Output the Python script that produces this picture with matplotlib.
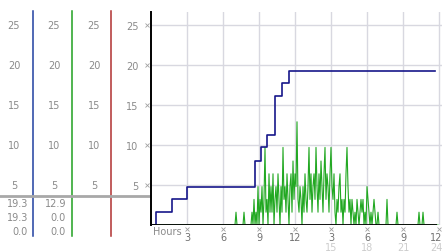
import numpy as np
import matplotlib
matplotlib.use('Agg')
import matplotlib.pyplot as plt
from matplotlib.transforms import blended_transform_factory

# gust steps (hour, value)
gust_hours = [0, 0.42, 1.75, 3.0, 8.7, 9.2, 9.7, 10.3, 10.9, 11.5, 23.7]
gust_vals = [0, 1.6, 3.2, 4.8, 8.0, 9.7, 11.3, 16.1, 17.7, 19.3, 19.3]

# wind, 5 minute readings, one row per hour
wind_rows = [
    [0, 0, 0, 0, 0, 0, 0, 0, 0, 0, 0, 0],
    [0, 0, 0, 0, 0, 0, 0, 0, 0, 0, 0, 0],
    [0, 0, 0, 0, 0, 0, 0, 0, 0, 0, 0, 0],
    [0, 0, 0, 0, 0, 0, 0, 0, 0, 0, 0, 0],
    [0, 0, 0, 0, 0, 0, 0, 0, 0, 0, 0, 0],
    [0, 0, 0, 0, 0, 0, 0, 0, 0, 0, 0, 0],
    [0, 0, 0, 0, 0, 0, 0, 0, 0, 0, 0, 0],
    [0, 1.6, 0, 0, 0, 0, 0, 0, 0, 1.6, 0, 0],
    [0, 0, 0, 0, 0, 1.6, 0, 3.2, 0, 1.6, 0, 4.8],
    [0, 3.2, 1.6, 4.8, 0, 3.2, 9.7, 1.6, 3.2, 0, 6.4, 1.6],
    [4.8, 1.6, 6.4, 0, 3.2, 4.8, 1.6, 6.4, 3.2, 0, 4.8, 1.6],
    [9.7, 3.2, 4.8, 1.6, 6.4, 3.2, 0, 4.8, 6.4, 1.6, 8.0, 3.2],
    [6.4, 4.8, 12.9, 3.2, 1.6, 4.8, 3.2, 0, 4.8, 1.6, 6.4, 3.2],
    [1.6, 4.8, 9.7, 3.2, 6.4, 1.6, 4.8, 6.4, 3.2, 9.7, 4.8, 1.6],
    [6.4, 3.2, 8.0, 4.8, 1.6, 6.4, 9.7, 3.2, 6.4, 4.8, 1.6, 6.4],
    [9.7, 4.8, 3.2, 6.4, 1.6, 0, 3.2, 1.6, 4.8, 6.4, 1.6, 3.2],
    [0, 3.2, 1.6, 6.4, 9.7, 4.8, 1.6, 3.2, 0, 3.2, 1.6, 0],
    [1.6, 0, 3.2, 1.6, 0, 1.6, 3.2, 1.6, 3.2, 0, 1.6, 0],
    [4.8, 3.2, 1.6, 0, 1.6, 0, 1.6, 3.2, 1.6, 0, 0, 1.6],
    [0, 0, 0, 0, 0, 0, 0, 0, 3.2, 0, 0, 0],
    [0, 0, 0, 0, 0, 0, 1.6, 0, 0, 0, 0, 0],
    [0, 0, 0, 0, 0, 0, 0, 0, 0, 0, 0, 0],
    [0, 0, 0, 0, 1.6, 0, 0, 0, 1.6, 0, 0, 0],
    [0, 0, 0, 0, 0, 0, 0, 0, 0, 0, 0, 0],
]

yticks = [5, 10, 15, 20, 25]
xticks = [3, 6, 9, 12, 15, 18, 21, 24]
xlabels = ['3', '6', '9', '12', '3', '6', '9', '12']
xlabels2 = {15: '15', 18: '18', 21: '21', 24: '24'}

gust_stats = ['19.3', '19.3', '0.0']
wind_stats = ['12.9', '0.0', '0.0']
legend_gust = 'Gust 05/05/05'
legend_wind = 'Wind 05/05/05'

NAVY = '#16168a'
GREEN = '#22a822'
GRAY = '#8a8a8a'
GRID = '#d8d8e0'

W, H = 442, 253
fig = plt.figure(figsize=(W / 100, H / 100), dpi=100)
fig.patch.set_facecolor('white')

# main plot area (pixels: x 151 -> 442, y 13 -> 226)
x0, x1, ytop, ybot = 151, 442, 13, 226
ax = fig.add_axes([x0 / W, (H - ybot) / H, (x1 - x0) / W, (ybot - ytop) / H])
ax.set_xlim(0, (x1 - x0) / 12)
ax.set_ylim(0, (ybot - ytop) / 8)

for y in yticks:
    ax.axhline(y, color=GRID, lw=1, zorder=0)
for x in xticks:
    ax.axvline(x, color=GRID, lw=1, zorder=0)

wind = np.array(wind_rows).ravel()
wind_t = np.arange(len(wind)) / 12.0
ax.plot(wind_t, wind, color=GREEN, lw=0.8, zorder=2)
ax.step(gust_hours, gust_vals, where='post', color=NAVY, lw=1.2, zorder=3)
ax.plot([0, 23.8], [0, 0], color='black', lw=1.3, zorder=4, solid_capstyle='butt')

for s in ['top', 'right', 'bottom']:
    ax.spines[s].set_visible(False)
ax.spines['left'].set_linewidth(1.4)

ax.set_yticks(yticks)
ax.set_yticklabels([str(v) for v in yticks], color=GRAY, fontsize=7)
ax.tick_params(axis='y', length=0, pad=9)
ax.set_xticks([])

xt = ax.get_xaxis_transform()
for x, lab in zip(xticks, xlabels):
    lx = min(x, 23.75)
    ax.text(lx, -0.056, lab, transform=xt, ha='center', va='center',
            color='#707070', fontsize=7, clip_on=False)
    ax.plot([x], [-0.018], marker='x', ms=2.5, mew=0.6, color='#a0a0a0',
            transform=xt, clip_on=False)
    if x in xlabels2:
        ax.text(lx, -0.103, xlabels2[x], transform=xt, ha='center', va='center',
                color='#cccccc', fontsize=7, clip_on=False)
for y in yticks:
    ax.plot([-0.33], [y], marker='x', ms=2.5, mew=0.6, color='#a0a0a0',
            clip_on=False)
ax.text(0.2, -0.028, 'Hours', transform=xt, ha='left', va='center',
        color=GRAY, fontsize=7, clip_on=False)

# overlay for side panels and legend, in pixel coordinates
ov = fig.add_axes([0, 0, 1, 1], zorder=-1)
ov.set_xlim(0, W)
ov.set_ylim(H, 0)
ov.axis('off')

mix = blended_transform_factory(ov.transData, ax.transData)
col_x = [14, 54, 94]
for cx in col_x:
    for y in yticks:
        ov.text(cx, y, str(y), transform=mix, ha='center', va='center',
                color=GRAY, fontsize=7)

ov.plot([33, 33], [12, 237], color='#2040a0', lw=1.1)
ov.plot([72, 72], [12, 237], color='#20a020', lw=1.1)
ov.plot([111, 111], [12, 237], color='#b03030', lw=1.1)
ov.plot([0, 150], [197, 197], color='#a8a8a8', lw=2)

for i, (g, w) in enumerate(zip(gust_stats, wind_stats)):
    yy = 204 + i * 14
    ov.text(28, yy, g, ha='right', va='center', color=GRAY, fontsize=7)
    ov.text(66, yy, w, ha='right', va='center', color=GRAY, fontsize=7)

ov.plot([161], [20], 'o', ms=4, color='#b8b0b8', mec='#909090', mew=0.4)
ov.text(166, 20, legend_gust, ha='left', va='center', color=NAVY, fontsize=7)
ov.plot([300], [20], 'o', ms=4, color='#b8b0b8', mec='#909090', mew=0.4)
ov.text(305, 20, legend_wind, ha='left', va='center', color=GREEN, fontsize=7)

fig.savefig('out.png', dpi=100)
